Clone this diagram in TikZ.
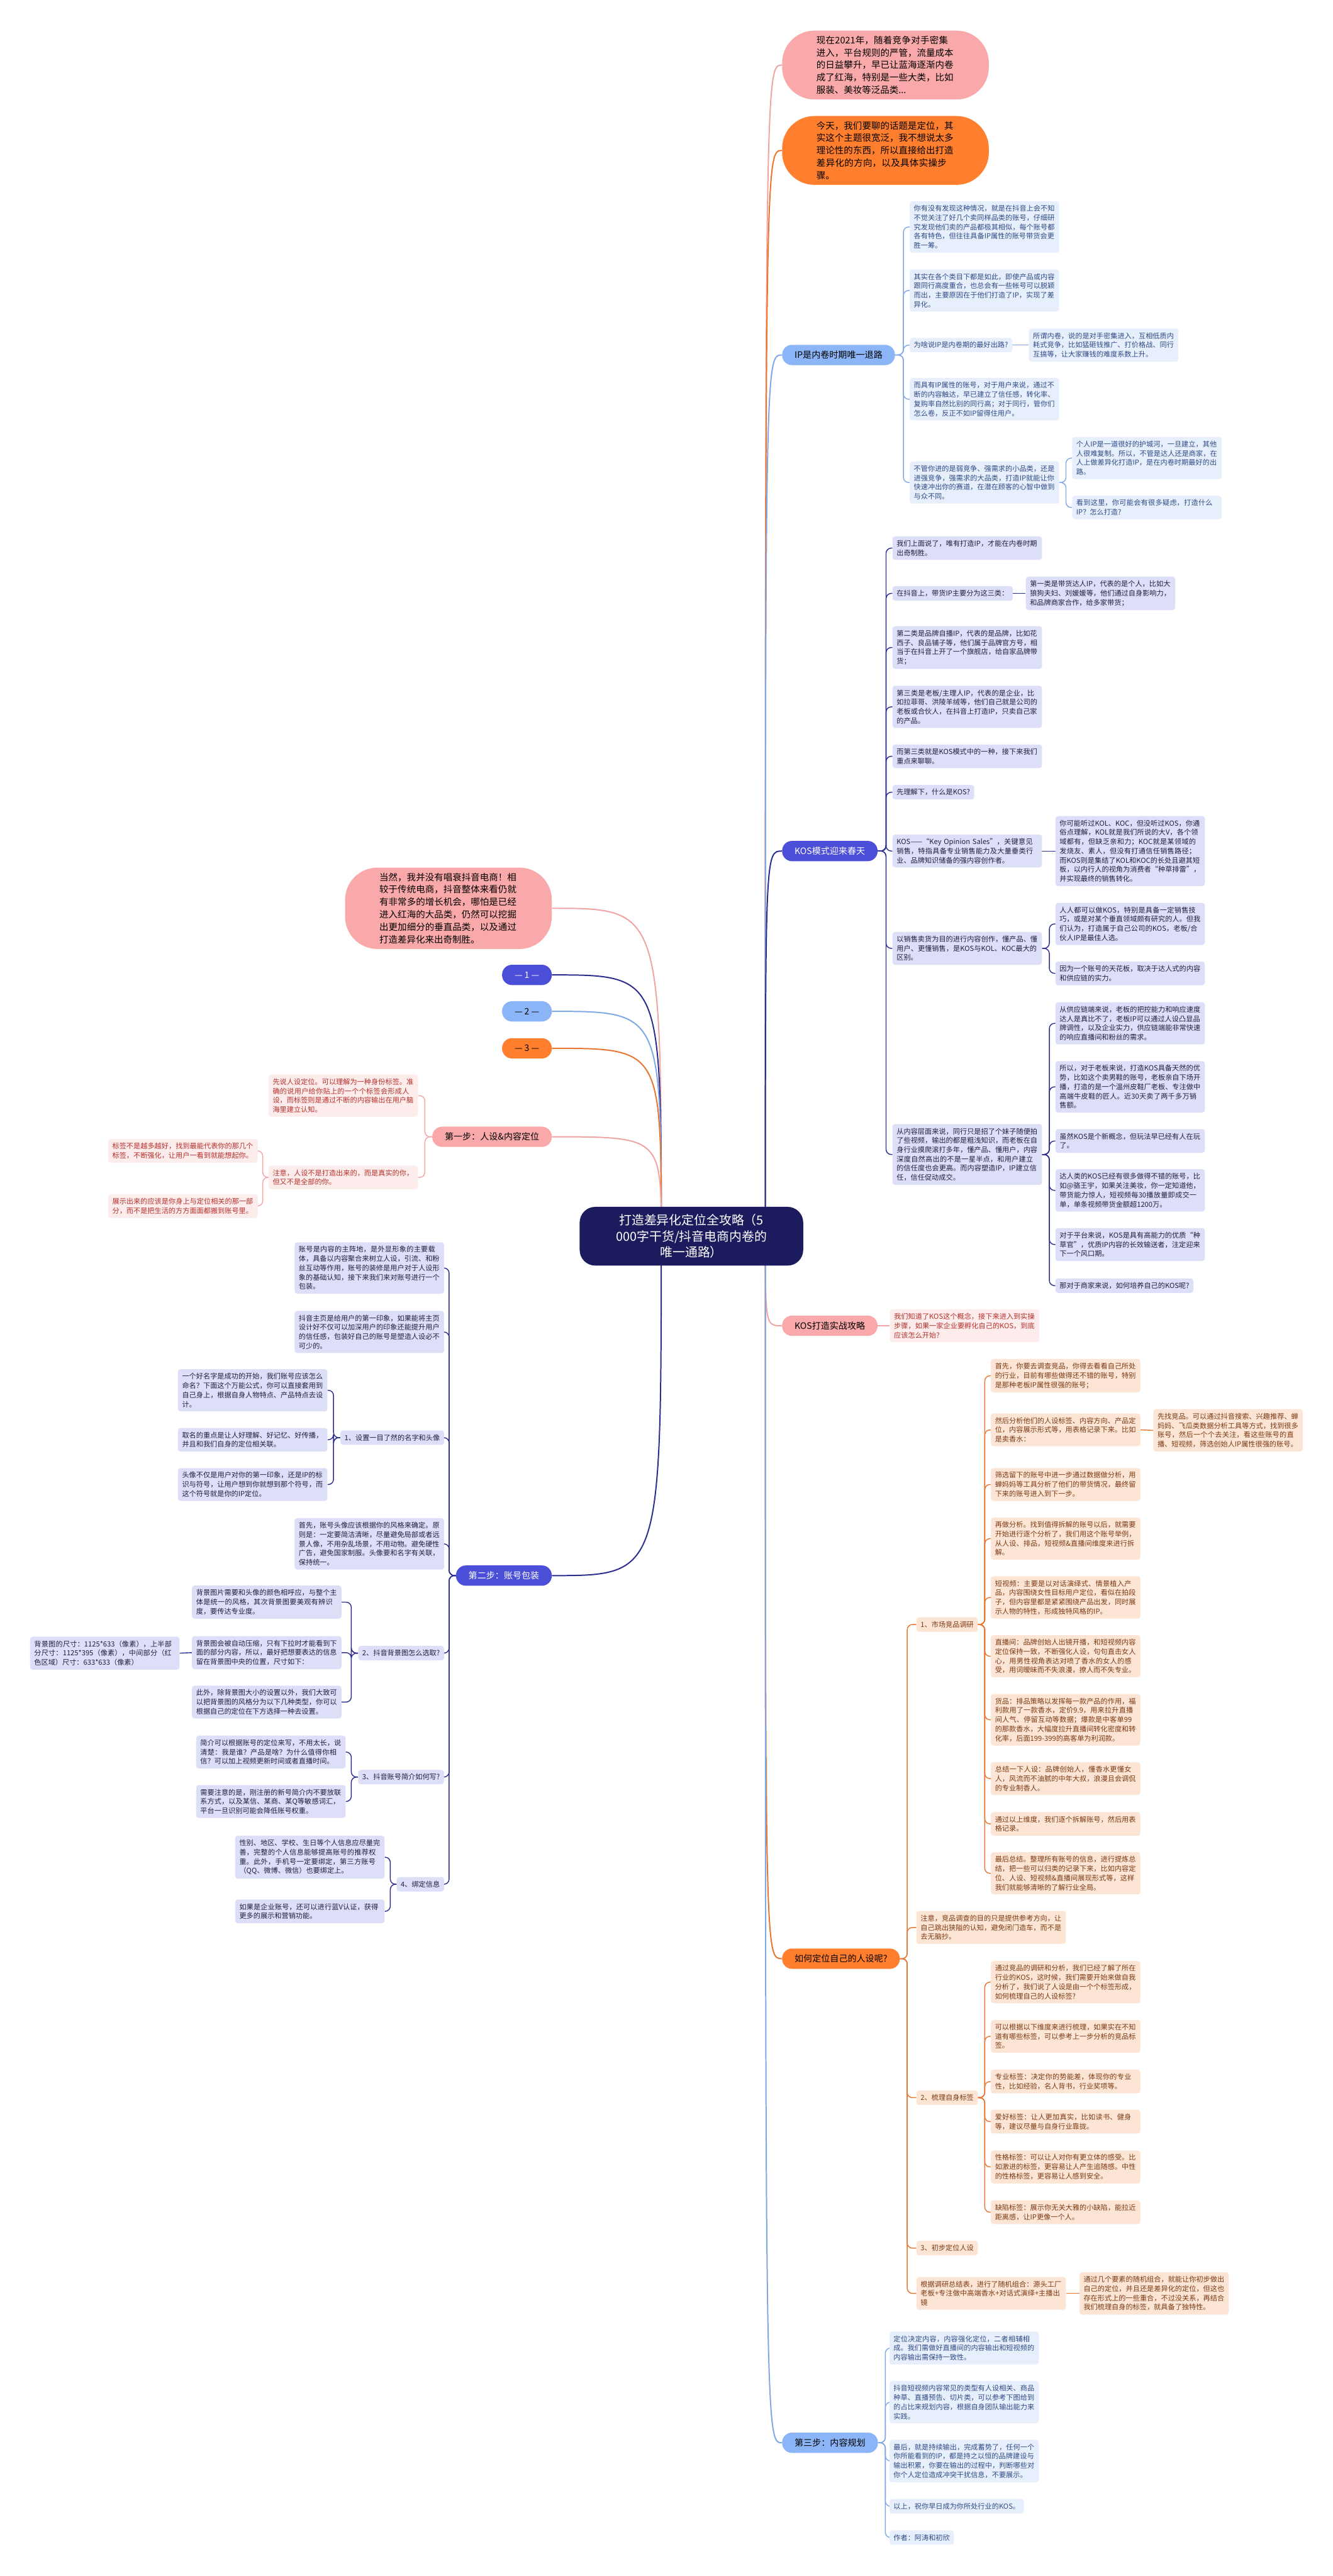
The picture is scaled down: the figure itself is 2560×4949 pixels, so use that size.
\documentclass[tikz,border=0pt]{standalone}
\usepackage{fontspec}
\setmainfont{Noto Sans CJK SC}
\XeTeXlinebreaklocale "zh"
\XeTeXlinebreakskip=0pt plus 1pt
\definecolor{rootc}{HTML}{1C1B5E}
\definecolor{vnode}{HTML}{4B4FD8}
\definecolor{vline}{HTML}{2B2E8E}
\definecolor{vfill}{HTML}{DDDEF8}
\definecolor{vtext}{HTML}{20203E}
\definecolor{bnode}{HTML}{8CB5F7}
\definecolor{bline}{HTML}{80A8E6}
\definecolor{bfill}{HTML}{E7EFFC}
\definecolor{btext}{HTML}{2F4A84}
\definecolor{onode}{HTML}{FF7F2E}
\definecolor{oline}{HTML}{E8762E}
\definecolor{ofill}{HTML}{FDE5D6}
\definecolor{otext}{HTML}{7A3A12}
\definecolor{pnode}{HTML}{F9A9A9}
\definecolor{pline}{HTML}{F0A4A4}
\definecolor{pfill}{HTML}{FDECEC}
\definecolor{ptext}{HTML}{B5302A}
\pgfdeclarelayer{bg}
\pgfsetlayers{bg,main}
\begin{document}
\begin{tikzpicture}[x=1pt, y=-1pt,
  box/.style={rounded corners=5pt, inner xsep=8pt, inner ysep=7.5pt, align=left,
    font=\fontsize{13.5}{17.8}\selectfont},
  leaf/.style={box, text width=271pt},
  vbox/.style={fill=vfill, text=vtext},
  bbox/.style={fill=bfill, text=btext},
  obox/.style={fill=ofill, text=otext},
  pbox/.style={fill=pfill, text=ptext},
  branch/.style={rounded corners=19pt, minimum height=39pt, inner xsep=24pt,
    font=\fontsize{17}{20}\selectfont},
  bubble/.style={rounded corners=62pt, inner xsep=66pt, inner ysep=10pt,
    text width=265pt, align=left, font=\fontsize{17.5}{24}\selectfont},
  trunk/.style={line width=2.4pt},
  twig/.style={line width=1.7pt, rounded corners=10pt}]
\useasboundingbox (0,0) rectangle (2560,4949);

% centre
\node (root) at (1328,2375)[fill=rootc, text=white, rounded corners=30pt, inner xsep=70pt,
  inner ysep=14pt, align=center, font=\fontsize{24}{31}\selectfont]
  {打造差异化定位全攻略（5\\000字干货/抖音电商内卷的\\唯一通路）};
\coordinate (rootR) at (1470,2375);
\coordinate (rootL) at (1270,2375);

% right side
\node (top1) at (1502,125)[bubble, fill=pnode, anchor=west]{现在2021年，随着竞争对手密集进入，平台规则的严管，流量成本的日益攀升，早已让蓝海逐渐内卷成了红海，特别是一些大类，比如服装、美妆等泛品类...};
\node (top2) at (1502,289)[bubble, fill=onode, anchor=west]{今天，我们要聊的话题是定位，其实这个主题很宽泛，我不想说太多理论性的东西，所以直接给出打造差异化的方向，以及具体实操步骤。};

\node (ipb) at (1502,682)[branch, fill=bnode, anchor=west]{IP是内卷时期唯一退路};
\node (ip1) at (1747,436)[leaf, bbox, anchor=west]{你有没有发现这种情况，就是在抖音上会不知不觉关注了好几个卖同样品类的账号，仔细研究发现他们卖的产品都极其相似，每个账号都各有特色，但往往具备IP属性的账号带货会更胜一筹。};
\node (ip2) at (1747,558)[leaf, bbox, anchor=west]{其实在各个类目下都是如此，即使产品或内容跟同行高度重合，也总会有一些帐号可以脱颖而出，主要原因在于他们打造了IP，实现了差异化。};
\node (ip3) at (1747,663)[box, bbox, anchor=west]{为啥说IP是内卷期的最好出路?};
\node (ip3a) at (1976,663)[leaf, bbox, anchor=west]{所谓内卷，说的是对手密集进入，互相低质内耗式竞争，比如猛砸钱推广、打价格战、同行互搞等，让大家赚钱的难度系数上升。};
\node (ip4) at (1747,767)[leaf, bbox, anchor=west]{而具有IP属性的账号，对于用户来说，通过不断的内容触达，早已建立了信任感，转化率、复购率自然比别的同行高；对于同行，管你们怎么卷，反正不如IP留得住用户。};
\node (ip5) at (1747,927)[leaf, bbox, anchor=west]{不管你进的是弱竞争、强需求的小品类，还是进强竞争，强需求的大品类，打造IP就能让你快速冲出你的赛道，在潜在顾客的心智中做到与众不同。};
\node (ip5a) at (2059,880)[leaf, bbox, anchor=west]{个人IP是一道很好的护城河，一旦建立，其他人很难复制。所以，不管是达人还是商家，在人上做差异化打造IP，是在内卷时期最好的出路。};
\node (ip5b) at (2059,975)[leaf, bbox, anchor=west]{看到这里，你可能会有很多疑虑，打造什么IP？怎么打造?};

\node (kosb) at (1502,1635)[branch, fill=vnode, text=white, anchor=west]{KOS模式迎来春天};
\node (k1) at (1714,1053)[leaf, vbox, anchor=west]{我们上面说了，唯有打造IP，才能在内卷时期出奇制胜。};
\node (k2) at (1714,1140)[box, vbox, anchor=west]{在抖音上，带货IP主要分为这三类：};
\node (k2a) at (1970,1140)[leaf, vbox, anchor=west]{第一类是带货达人IP，代表的是个人，比如大狼狗夫妇、刘媛媛等，他们通过自身影响力，和品牌商家合作，给多家带货；};
\node (k3) at (1714,1244)[leaf, vbox, anchor=west]{第二类是品牌自播IP，代表的是品牌，比如花西子、良品铺子等，他们属于品牌官方号，相当于在抖音上开了一个旗舰店，给自家品牌带货；};
\node (k4) at (1714,1358)[leaf, vbox, anchor=west]{第三类是老板/主理人IP，代表的是企业，比如拉菲哥、洪陵羊绒等，他们自己就是公司的老板或合伙人，在抖音上打造IP，只卖自己家的产品。};
\node (k5) at (1714,1453)[leaf, vbox, anchor=west]{而第三类就是KOS模式中的一种，接下来我们重点来聊聊。};
\node (k6) at (1714,1522)[box, vbox, anchor=west]{先理解下，什么是KOS?};
\node (k7) at (1714,1635)[leaf, vbox, anchor=west]{KOS——“Key Opinion Sales”，关键意见销售，特指具备专业销售能力及大量垂类行业、品牌知识储备的强内容创作者。};
\node (k7a) at (2027,1635)[leaf, vbox, anchor=west]{你可能听过KOL、KOC，但没听过KOS，你通俗点理解，KOL就是我们所说的大V，各个领域都有，但缺乏亲和力；KOC就是某领域的发烧友、素人，但没有打通信任销售路径；而KOS则是集结了KOL和KOC的长处且避其短板，以内行人的视角为消费者“种草排雷”，并实现最终的销售转化。};
\node (k8) at (1714,1822)[leaf, vbox, anchor=west]{以销售卖货为目的进行内容创作，懂产品、懂用户、更懂销售，是KOS与KOL、KOC最大的区别。};
\node (k8a) at (2027,1775)[leaf, vbox, anchor=west]{人人都可以做KOS，特别是具备一定销售技巧，或是对某个垂直领域颇有研究的人。但我们认为，打造属于自己公司的KOS，老板/合伙人IP是最佳人选。};
\node (k8b) at (2027,1870)[leaf, vbox, anchor=west]{因为一个账号的天花板，取决于达人式的内容和供应链的实力。};
\node (k9) at (1714,2218)[leaf, vbox, anchor=west]{从内容层面来说，同行只是招了个妹子随便拍了些视频，输出的都是粗浅知识，而老板在自身行业摸爬滚打多年，懂产品、懂用户，内容深度自然高出的不是一星半点，和用户建立的信任度也会更高。而内容塑造IP，IP建立信任，信任促动成交。};
\node (k9a) at (2027,1966)[leaf, vbox, anchor=west]{从供应链端来说，老板的把控能力和响应速度达人是真比不了，老板IP可以通过人设凸显品牌调性，以及企业实力，供应链端能非常快速的响应直播间和粉丝的需求。};
\node (k9b) at (2027,2088)[leaf, vbox, anchor=west]{所以，对于老板来说，打造KOS具备天然的优势，比如这个卖男鞋的账号，老板亲自下场开播，打造的是一个温州皮鞋厂老板、专注做中高端牛皮鞋的匠人。近30天卖了两千多万销售额。};
\node (k9c) at (2027,2192)[leaf, vbox, anchor=west]{虽然KOS是个新概念，但玩法早已经有人在玩了。};
\node (k9d) at (2027,2287)[leaf, vbox, anchor=west]{达人类的KOS已经有很多做得不错的账号，比如@骆王宇，如果关注美妆，你一定知道他，带货能力惊人，短视频每30播放量即成交一单，单条视频带货金额超1200万。};
\node (k9e) at (2027,2391)[leaf, vbox, anchor=west]{对于平台来说，KOS是具有高能力的优质“种草官”，优质IP内容的长效输送者，注定迎来下一个风口期。};
\node (k9f) at (2027,2470)[box, vbox, anchor=west]{那对于商家来说，如何培养自己的KOS呢?};

\node (kfb) at (1502,2547)[branch, fill=pnode, anchor=west]{KOS打造实战攻略};
\node (kf1) at (1709,2547)[leaf, pbox, anchor=west]{我们知道了KOS这个概念，接下来进入到实操步骤，如果一家企业要孵化自己的KOS，到底应该怎么开始?};

\node (posb) at (1502,3763)[branch, fill=onode, anchor=west]{如何定位自己的人设呢?};
\node (p1) at (1760,3121)[box, obox, anchor=west]{1、市场竞品调研};
\node (mk1) at (1903,2643)[leaf, obox, anchor=west]{首先，你要去调查竞品，你得去看看自己所处的行业，目前有哪些做得还不错的账号，特别是那种老板IP属性很强的账号；};
\node (mk2) at (1903,2747)[leaf, obox, anchor=west]{然后分析他们的人设标签、内容方向、产品定位，内容展示形式等，用表格记录下来。比如是卖香水：};
\node (mk2a) at (2215,2748)[leaf, obox, anchor=west]{先找竞品。可以通过抖音搜索、兴趣推荐、蝉妈妈、飞瓜类数据分析工具等方式，找到很多账号，然后一个个去关注，看这些账号的直播、短视频，筛选创始人IP属性很强的账号。};
\node (mk3) at (1903,2852)[leaf, obox, anchor=west]{筛选留下的账号中进一步通过数据做分析，用蝉妈妈等工具分析了他们的带货情况，最终留下来的账号进入到下一步。};
\node (mk4) at (1903,2956)[leaf, obox, anchor=west]{再做分析。找到值得拆解的账号以后，就需要开始进行逐个分析了，我们用这个账号举例，从人设、排品，短视频\&直播间维度来进行拆解。};
\node (mk5) at (1903,3069)[leaf, obox, anchor=west]{短视频：主要是以对话演绎式、情景植入产品，内容围绕女性目标用户定位，看似在拍段子，但内容里都是紧紧围绕产品出发，同时展示人物的特性，形成独特风格的IP。};
\node (mk6) at (1903,3182)[leaf, obox, anchor=west]{直播间：品牌创始人出镜开播，和短视频内容定位保持一致，不断强化人设，句句直击女人心，用男性视角表达对喷了香水的女人的感受，用词暧昧而不失浪漫，撩人而不失专业。};
\node (mk7) at (1903,3304)[leaf, obox, anchor=west]{货品：排品策略以发挥每一款产品的作用，福利款用了一款香水，定价9.9，用来拉升直播间人气、停留互动等数据；爆款是中客单99的那款香水，大幅度拉升直播间转化密度和转化率，后面199-399的高客单为利润款。};
\node (mk8) at (1903,3417)[leaf, obox, anchor=west]{总结一下人设：品牌创始人，懂香水更懂女人，风流而不油腻的中年大叔，浪漫且会调侃的专业制香人。};
\node (mk9) at (1903,3504)[leaf, obox, anchor=west]{通过以上维度，我们逐个拆解账号，然后用表格记录。};
\node (mk10) at (1903,3599)[leaf, obox, anchor=west]{最后总结。整理所有账号的信息，进行提炼总结，把一些可以归类的记录下来，比如内容定位、人设、短视频\&直播间展现形式等，这样我们就能够清晰的了解行业全局。};
\node (p2) at (1760,3703)[leaf, obox, anchor=west]{注意，竞品调查的目的只是提供参考方向，让自己跳出狭隘的认知，避免闭门造车，而不是去无脑抄。};
\node (p3) at (1760,4030)[box, obox, anchor=west]{2、梳理自身标签};
\node (tg1) at (1903,3808)[leaf, obox, anchor=west]{通过竞品的调研和分析，我们已经了解了所在行业的KOS，这时候，我们需要开始来做自我分析了，我们说了人设是由一个个标签形成，如何梳理自己的人设标签?};
\node (tg2) at (1903,3912)[leaf, obox, anchor=west]{可以根据以下维度来进行梳理，如果实在不知道有哪些标签，可以参考上一步分析的竞品标签。};
\node (tg3) at (1903,3999)[leaf, obox, anchor=west]{专业标签：决定你的势能差，体现你的专业性，比如经验，名人背书，行业奖项等。};
\node (tg4) at (1903,4076)[leaf, obox, anchor=west]{爱好标签：让人更加真实，比如读书、健身等，建议尽量与自身行业靠拢。};
\node (tg5) at (1903,4163)[leaf, obox, anchor=west]{性格标签：可以让人对你有更立体的感受。比如激进的标签，更容易让人产生追随感。中性的性格标签，更容易让人感到安全。};
\node (tg6) at (1903,4250)[leaf, obox, anchor=west]{缺陷标签：展示你无关大雅的小缺陷，能拉近距离感，让IP更像一个人。};
\node (p4) at (1760,4319)[box, obox, anchor=west]{3、初步定位人设};
\node (p5) at (1760,4406)[leaf, obox, anchor=west]{根据调研总结表，进行了随机组合：源头工厂老板+专注做中高端香水+对话式演绎+主播出镜};
\node (p5a) at (2073,4406)[leaf, obox, anchor=west]{通过几个要素的随机组合，就能让你初步做出自己的定位，并且还是差异化的定位，但这也存在形式上的一些重合，不过没关系，再结合我们梳理自身的标签，就具备了独特性。};

\node (plan) at (1502,4693)[branch, fill=bnode, anchor=west]{第三步：内容规划};
\node (pl1) at (1708,4511)[leaf, bbox, anchor=west]{定位决定内容，内容强化定位，二者相辅相成。我们需做好直播间的内容输出和短视频的内容输出需保持一致性。};
\node (pl2) at (1708,4615)[leaf, bbox, anchor=west]{抖音短视频内容常见的类型有人设相关、商品种草、直播预告、切片类，可以参考下图给到的占比来规划内容，根据自身团队输出能力来实践。};
\node (pl3) at (1708,4728)[leaf, bbox, anchor=west]{最后，就是持续输出，完成蓄势了，任何一个你所能看到的IP，都是持之以恒的品牌建设与输出积累，你要在输出的过程中，判断哪些对你个人定位造成冲突干扰信息，不要展示。};
\node (pl4) at (1708,4815)[box, bbox, anchor=west]{以上，祝你早日成为你所处行业的KOS。};
\node (pl5) at (1708,4875)[box, bbox, anchor=west]{作者：阿涛和初欣};

% left side
\node (lbub) at (1060,1745)[bubble, fill=pnode, anchor=east]{当然，我并没有唱衰抖音电商！相较于传统电商，抖音整体来看仍就有非常多的增长机会，哪怕是已经进入红海的大品类，仍然可以挖掘出更加细分的垂直品类，以及通过打造差异化来出奇制胜。};
\node (no1) at (1060,1873)[branch, fill=vnode, text=white, anchor=east]{— 1 —};
\node (no2) at (1060,1943)[branch, fill=bnode, anchor=east]{— 2 —};
\node (no3) at (1060,2014)[branch, fill=onode, anchor=east]{— 3 —};

\node (stepa) at (1060,2184)[branch, fill=pnode, anchor=east]{第一步：人设\&内容定位};
\node (sa1) at (803,2105)[leaf, pbox, anchor=east]{先说人设定位。可以理解为一种身份标签。准确的说用户给你贴上的一个个标签会形成人设，而标签则是通过不断的内容输出在用户脑海里建立认知。};
\node (sa2) at (803,2262)[leaf, pbox, anchor=east]{注意，人设不是打造出来的，而是真实的你，但又不是全部的你。};
\node (sa2a) at (495,2211)[leaf, pbox, anchor=east]{标签不是越多越好，找到最能代表你的那几个标签，不断强化，让用户一看到就能想起你。};
\node (sa2b) at (495,2317)[leaf, pbox, anchor=east]{展示出来的应该是你身上与定位相关的那一部分，而不是把生活的方方面面都搬到账号里。};

\node (stepb) at (1060,3027)[branch, fill=vnode, text=white, anchor=east]{第二步：账号包装};
\node (sb1) at (853,2436)[leaf, vbox, anchor=east]{账号是内容的主阵地，是外显形象的主要载体，具备以内容聚合来树立人设，引流、和粉丝互动等作用，账号的装修是用户对于人设形象的基础认知，接下来我们来对账号进行一个包装。};
\node (sb2) at (853,2559)[leaf, vbox, anchor=east]{抖音主页是给用户的第一印象，如果能将主页设计好不仅可以加深用户的印象还能提升用户的信任感，包装好自己的账号是塑造人设必不可少的。};
\node (sb3) at (853,2762)[box, vbox, anchor=east]{1、设置一目了然的名字和头像};
\node (sb3a) at (629,2671)[leaf, vbox, anchor=east]{一个好名字是成功的开始，我们账号应该怎么命名？下面这个万能公式，你可以直接套用到自己身上，根据自身人物特点、产品特点去设计。};
\node (sb3b) at (629,2766)[leaf, vbox, anchor=east]{取名的重点是让人好理解、好记忆、好传播，并且和我们自身的定位相关联。};
\node (sb3c) at (629,2852)[leaf, vbox, anchor=east]{头像不仅是用户对你的第一印象，还是IP的标识与符号，让用户想到你就想到那个符号，而这个符号就是你的IP定位。};
\node (sb4) at (853,2966)[leaf, vbox, anchor=east]{首先，账号头像应该根据你的风格来确定。原则是：一定要简洁清晰，尽量避免局部或者远景人像，不用杂乱场景，不用动物。避免硬性广告，避免国家制服。头像要和名字有关联，保持统一。};
\node (sb5) at (853,3176)[box, vbox, anchor=east]{2、抖音背景图怎么选取?};
\node (sb5a) at (656,3078)[leaf, vbox, anchor=east]{背景图片需要和头像的颜色相呼应，与整个主体是统一的风格，其次背景图要美观有辨识度，要传达专业度。};
\node (sb5b) at (656,3175)[leaf, vbox, anchor=east]{背景图会被自动压缩，只有下拉时才能看到下面的部分内容，所以，最好把想要表达的信息留在背景图中央的位置，尺寸如下：};
\node (sb5x) at (345,3176)[leaf, vbox, anchor=east]{背景图的尺寸：1125*633（像素），上半部分尺寸：1125*395（像素），中间部分（红色区域）尺寸：633*633（像素）};
\node (sb5c) at (656,3270)[leaf, vbox, anchor=east]{此外，除背景图大小的设置以外，我们大致可以把背景图的风格分为以下几种类型，你可以根据自己的定位在下方选择一种去设置。};
\node (sb6) at (853,3414)[box, vbox, anchor=east]{3、抖音账号简介如何写?};
\node (sb6a) at (664,3366)[leaf, vbox, anchor=east]{简介可以根据账号的定位来写，不用太长，说清楚：我是谁？产品是啥？为什么值得你相信？可以加上视频更新时间或者直播时间。};
\node (sb6b) at (664,3461)[leaf, vbox, anchor=east]{需要注意的是，刚注册的新号简介内不要放联系方式，以及某信、某商、某Q等敏感词汇，平台一旦识别可能会降低账号权重。};
\node (sb7) at (853,3620)[box, vbox, anchor=east]{4、绑定信息};
\node (sb7a) at (739,3568)[leaf, vbox, anchor=east]{性别、地区、学校、生日等个人信息应尽量完善，完整的个人信息能够提高账号的推荐权重。此外，手机号一定要绑定，第三方账号（QQ、微博、微信）也要绑定上。};
\node (sb7b) at (739,3672)[leaf, vbox, anchor=east]{如果是企业账号，还可以进行蓝V认证，获得更多的展示和营销功能。};

\begin{pgfonlayer}{bg}
\fill[white] (0,0) rectangle (2560,4949);
\draw[trunk, pline] (rootR) .. controls (rootR |- top1) .. (top1.west);
\draw[trunk, oline] (rootR) .. controls (rootR |- top2) .. (top2.west);
\draw[trunk, bline] (rootR) .. controls (rootR |- ipb) .. (ipb.west);
\draw[trunk, vline] (rootR) .. controls (rootR |- kosb) .. (kosb.west);
\draw[trunk, pline] (rootR) .. controls (rootR |- kfb) .. (kfb.west);
\draw[trunk, oline] (rootR) .. controls (rootR |- posb) .. (posb.west);
\draw[trunk, bline] (rootR) .. controls (rootR |- plan) .. (plan.west);
\draw[trunk, pline] (rootL) .. controls (rootL |- lbub) .. (lbub.east);
\draw[trunk, vline] (rootL) .. controls (rootL |- no1) .. (no1.east);
\draw[trunk, bline] (rootL) .. controls (rootL |- no2) .. (no2.east);
\draw[trunk, oline] (rootL) .. controls (rootL |- no3) .. (no3.east);
\draw[trunk, pline] (rootL) .. controls (rootL |- stepa) .. (stepa.east);
\draw[trunk, vline] (rootL) .. controls (rootL |- stepb) .. (stepb.east);

\foreach \c in {ip1,ip2,ip3,ip4,ip5}
  \draw[twig, bline] (ipb.east) -- ++(16,0) |- (\c.west);
\draw[twig, bline] (ip3.east) -- (ip3a.west);
\foreach \c in {ip5a,ip5b}
  \draw[twig, bline] (ip5.east) -- ++(13,0) |- (\c.west);

\foreach \c in {k1,k2,k3,k4,k5,k6,k7,k8,k9}
  \draw[twig, vline] (kosb.east) -- ++(16,0) |- (\c.west);
\draw[twig, vline] (k2.east) -- (k2a.west);
\draw[twig, vline] (k7.east) -- (k7a.west);
\foreach \c in {k8a,k8b}
  \draw[twig, vline] (k8.east) -- ++(14,0) |- (\c.west);
\foreach \c in {k9a,k9b,k9c,k9d,k9e,k9f}
  \draw[twig, vline] (k9.east) -- ++(14,0) |- (\c.west);
\draw[twig, pline] (kfb.east) -- (kf1.west);

\foreach \c in {p1,p2,p3,p4,p5}
  \draw[twig, oline] (posb.east) -- ++(14,0) |- (\c.west);
\foreach \c in {mk1,mk2,mk3,mk4,mk5,mk6,mk7,mk8,mk9,mk10}
  \draw[twig, oline] (p1.east) -- ++(13,0) |- (\c.west);
\draw[twig, oline] (mk2.east) -- (mk2a.west);
\foreach \c in {tg1,tg2,tg3,tg4,tg5,tg6}
  \draw[twig, oline] (p3.east) -- ++(13,0) |- (\c.west);
\draw[twig, oline] (p5.east) -- (p5a.west);
\foreach \c in {pl1,pl2,pl3,pl4,pl5}
  \draw[twig, bline] (plan.east) -- ++(14,0) |- (\c.west);

\foreach \c in {sa1,sa2}
  \draw[twig, pline] (stepa.west) -- ++(-14,0) |- (\c.east);
\foreach \c in {sa2a,sa2b}
  \draw[twig, pline] (sa2.west) -- ++(-11,0) |- (\c.east);
\foreach \c in {sb1,sb2,sb3,sb4,sb5,sb6,sb7}
  \draw[twig, vline] (stepb.west) -- ++(-13,0) |- (\c.east);
\foreach \c in {sb3a,sb3b,sb3c}
  \draw[twig, vline] (sb3.west) -- ++(-13,0) |- (\c.east);
\foreach \c in {sb5a,sb5b,sb5c}
  \draw[twig, vline] (sb5.west) -- ++(-13,0) |- (\c.east);
\draw[twig, vline] (sb5b.west) -- (sb5x.east);
\foreach \c in {sb6a,sb6b}
  \draw[twig, vline] (sb6.west) -- ++(-13,0) |- (\c.east);
\foreach \c in {sb7a,sb7b}
  \draw[twig, vline] (sb7.west) -- ++(-12,0) |- (\c.east);
\end{pgfonlayer}
\end{tikzpicture}
\end{document}
